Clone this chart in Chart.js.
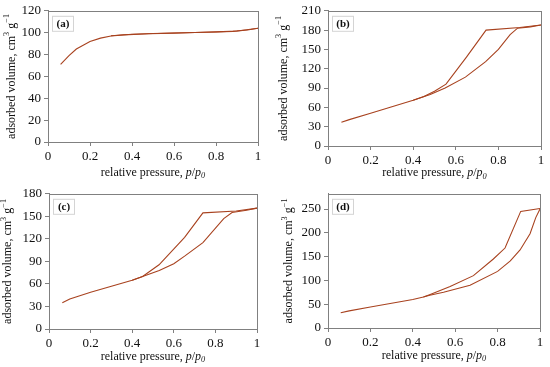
<!DOCTYPE html>
<html>
<head>
<meta charset="utf-8">
<script src="https://cdn.jsdelivr.net/npm/chart.js@4.4.1/dist/chart.umd.min.js"></script>
<style>
  html, body { margin: 0; padding: 0; background: #fff; }
  #wrap { position: relative; width: 550px; height: 367px; overflow: hidden; }
  canvas { position: absolute; }
</style>
</head>
<body>
<div id="wrap">
  <canvas id="grafA" width="275" height="183" style="left:0;top:0"></canvas>
  <canvas id="grafB" width="275" height="183" style="left:275px;top:0"></canvas>
  <canvas id="grafC" width="275" height="184" style="left:0;top:183px"></canvas>
  <canvas id="grafD" width="275" height="184" style="left:275px;top:183px"></canvas>
</div>
<script>
// ticks
var xTicks = [0, 0.2, 0.4, 0.6, 0.8, 1];
var yTicksA = [0, 20, 40, 60, 80, 100, 120];
var yTicksB = [0, 30, 60, 90, 120, 150, 180, 210];
var yTicksC = [0, 30, 60, 90, 120, 150, 180];
var yTicksD = [0, 50, 100, 150, 200, 250];

// (a)
var pAdsA = [0.06, 0.1, 0.135, 0.2, 0.25, 0.3, 0.36, 0.48, 0.6, 0.7, 0.8, 0.88, 0.95, 1.0];
var adsA = [71, 79, 85, 92, 95, 97, 98, 99, 99.6, 100.1, 100.6, 101.2, 102.4, 104];
var pDesA = [1.0, 0.9, 0.8, 0.7, 0.6, 0.5, 0.4, 0.3];
var desA = [104, 101.5, 100.7, 100.2, 99.7, 99.2, 98.5, 97.2];

// (b)
var pAdsB = [0.063, 0.1, 0.2, 0.3, 0.4, 0.48, 0.55, 0.645, 0.74, 0.8, 0.855, 0.89, 0.95, 1.0];
var adsB = [37, 41, 51, 61, 71, 80, 90, 107, 131, 150, 173, 183, 185, 188];
var pDesB = [1.0, 0.9, 0.742, 0.65, 0.554, 0.5, 0.45, 0.4];
var desB = [188, 184, 180, 138, 96, 85, 77, 71];

// (c)
var pAdsC = [0.064, 0.1, 0.2, 0.3, 0.4, 0.45, 0.53, 0.6, 0.652, 0.74, 0.84, 0.88, 0.95, 1.0];
var adsC = [35, 40, 49, 57, 65, 70, 78, 87, 97, 115, 147, 155, 158, 161];
var pDesC = [1.0, 0.9, 0.74, 0.652, 0.529, 0.45, 0.4];
var desC = [161, 157, 154.6, 122, 85.5, 70, 65];

// (d)
var pAdsD = [0.06, 0.1, 0.2, 0.3, 0.4, 0.45, 0.48, 0.545, 0.67, 0.8, 0.86, 0.906, 0.953, 0.98, 1.0];
var adsD = [32, 36, 44, 52, 60, 65, 69, 75, 90, 119, 141, 164, 198, 232, 250];
var pDesD = [1.0, 0.909, 0.835, 0.78, 0.686, 0.576, 0.482, 0.45];
var desD = [251, 245, 168, 145, 110, 87, 70.5, 65];

var corLinha = '#a8421f';
var corEixo = '#808080';
var fonte = '"Liberation Serif", "DejaVu Serif", serif';

function pontos(px, py) {
  return px.map(function (p, i) { return { x: p, y: py[i] }; });
}

// texto com italico / sub / sup
function textoRico(ctx, partes, x, y, tam) {
  var total = 0;
  partes.forEach(function (p) {
    ctx.font = (p.i ? 'italic ' : '') + (p.sub || p.sup ? tam * 0.7 : tam) + 'px ' + fonte;
    p.w = ctx.measureText(p.t).width;
    total += p.w;
  });
  var cx = x - total / 2;
  partes.forEach(function (p) {
    ctx.font = (p.i ? 'italic ' : '') + (p.sub || p.sup ? tam * 0.7 : tam) + 'px ' + fonte;
    var dy = p.sub ? tam * 0.28 : (p.sup ? -tam * 0.38 : 0);
    ctx.fillText(p.t, cx, y + dy);
    cx += p.w;
  });
}

var tituloX = [
  { t: 'relative pressure, ' }, { t: 'p', i: true }, { t: '/' }, { t: 'p', i: true }, { t: '0', i: true, sub: true }
];
var tituloY = [
  { t: 'adsorbed volume, cm' }, { t: '3', sup: true }, { t: ' g' }, { t: '\u22121', sup: true }
];

var moldura = {
  id: 'moldura',
  afterDraw: function (chart, args, opts) {
    var a = chart.chartArea;
    var ctx = chart.ctx;
    ctx.save();
    ctx.strokeStyle = corEixo;
    ctx.lineWidth = 1;
    ctx.strokeRect(Math.round(a.left) + 0.5, Math.round(a.top) + 0.5,
      Math.round(a.right - a.left), Math.round(a.bottom - a.top));

    // caixa da letra
    var bx = a.left + 4, by = a.top + 5;
    ctx.fillStyle = '#fff';
    ctx.fillRect(bx, by, 21, 15);
    ctx.strokeStyle = '#d4d4d4';
    ctx.strokeRect(bx + 0.5, by + 0.5, 21, 15);
    ctx.fillStyle = '#111';
    ctx.font = 'bold 11px ' + fonte;
    ctx.textAlign = 'center';
    ctx.textBaseline = 'middle';
    ctx.fillText(opts.letra, bx + 11, by + 8.5);

    // titulos dos eixos
    ctx.textAlign = 'left';
    ctx.textBaseline = 'middle';
    ctx.fillStyle = '#111';
    textoRico(ctx, tituloX, (a.left + a.right) / 2, a.bottom + opts.offX, 12);
    ctx.translate(opts.posY, (a.top + a.bottom) / 2);
    ctx.rotate(-Math.PI / 2);
    textoRico(ctx, tituloY, 0, 0, 12);
    ctx.restore();
  }
};

function grafico(id, letra, pa, va, pd, vd, yTicks, yMax, cfg) {
  var ctx = document.getElementById(id).getContext('2d');
  return new Chart(ctx, {
    type: 'line',
    data: {
      datasets: [
        { data: pontos(pa, va), borderColor: corLinha, borderWidth: 1.1, pointRadius: 0, tension: 0 },
        { data: pontos(pd, vd), borderColor: corLinha, borderWidth: 1.1, pointRadius: 0, tension: 0 },
      ],
    },
    options: {
      responsive: false,
      animation: false,
      layout: { padding: { left: 0, right: cfg.dir, top: cfg.topo, bottom: 0 } },
      plugins: {
        legend: { display: false },
        tooltip: { enabled: false },
        moldura: { letra: letra, offX: cfg.offX, posY: cfg.posY },
      },
      scales: {
        x: {
          type: 'linear',
          min: 0,
          max: 1,
          afterBuildTicks: function (s) { s.ticks = xTicks.map(function (v) { return { value: v }; }); },
          afterFit: function (s) { s.height = cfg.altX; },
          ticks: {
            color: '#111',
            padding: 3,
            maxRotation: 0,
            font: { family: fonte, size: 13 },
            callback: function (v) { return String(v); },
          },
          grid: { drawOnChartArea: false, tickLength: 4, color: corEixo },
          border: { color: corEixo },
        },
        y: {
          type: 'linear',
          min: 0,
          max: yMax,
          afterBuildTicks: function (s) { s.ticks = yTicks.map(function (v) { return { value: v }; }); },
          afterFit: function (s) { s.width = cfg.largY; },
          ticks: {
            color: '#111',
            padding: 3,
            font: { family: fonte, size: 13 },
          },
          grid: { drawOnChartArea: false, tickLength: 4, color: corEixo },
          border: { color: corEixo },
        },
      },
    },
    plugins: [moldura],
  });
}

grafico('grafA', '(a)', pAdsA, adsA, pDesA, desA, yTicksA, 120,
  { dir: 17, topo: 7, altX: 41, largY: 48, offX: 30.5, posY: 11.7 });
grafico('grafB', '(b)', pAdsB, adsB, pDesB, desB, yTicksB, 210,
  { dir: 9, topo: 8, altX: 37, largY: 53, offX: 27, posY: 8.5 });
grafico('grafC', '(c)', pAdsC, adsC, pDesC, desC, yTicksC, 180,
  { dir: 18, topo: 4, altX: 38, largY: 49, offX: 27.5, posY: 8.3 });
grafico('grafD', '(d)', pAdsD, adsD, pDesD, desD, yTicksD, 282,
  { dir: 10, topo: 5, altX: 39, largY: 53, offX: 27.5, posY: 14 });
</script>
</body>
</html>
